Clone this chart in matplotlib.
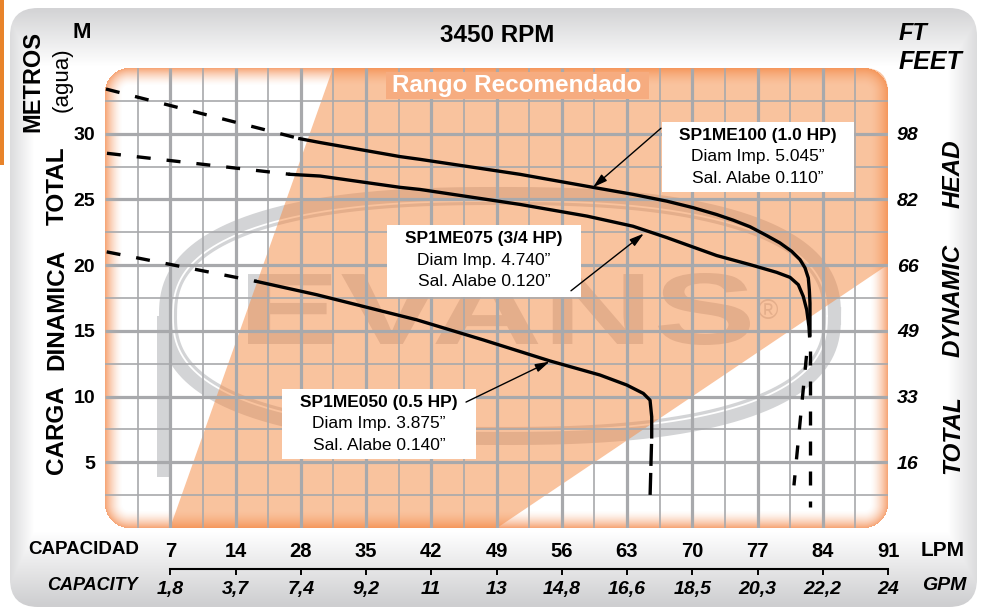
import numpy as np
import matplotlib
matplotlib.use("Agg")
import matplotlib.pyplot as plt
from matplotlib.patches import FancyBboxPatch, Rectangle, PathPatch
from matplotlib.textpath import TextPath
from matplotlib.font_manager import FontProperties
from matplotlib.transforms import Affine2D

plt.rcParams['font.family'] = ['Liberation Sans', 'DejaVu Sans']

# ---------------- data ----------------
tick_pos = [7, 14, 21, 28, 35, 42, 49, 56, 63, 70, 77, 84]
lpm_labels = ['7', '14', '28', '35', '42', '49', '56', '63', '70', '77', '84', '91']
gpm_labels = ['1,8', '3,7', '7,4', '9,2', '11', '13', '14,8', '16,6', '18,5', '20,3', '22,2', '24']
head_m = [5, 10, 15, 20, 25, 30]
head_ft = ['16', '33', '49', '66', '82', '98']

# SP1ME100 (1.0 HP)
me100_dash_x = [0.1, 20.9]
me100_dash_y = [33.4, 29.62]
me100_x = [20.9, 23.07, 31.65, 33.79, 44.52, 52.35, 56.68, 60.26, 63.11, 65.62, 67.4, 69.2,
           70.99, 72.41, 73.67, 74.56, 75.1, 75.45, 75.56, 75.63, 75.63, 75.63]
me100_y = [29.62, 29.33, 28.26, 28.05, 26.91, 25.92, 25.38, 24.87, 24.37, 23.85, 23.42, 22.92,
           22.25, 21.69, 21.05, 20.42, 19.79, 19.02, 18.13, 17.11, 16.09, 14.69]
me100_tail_x = [75.63, 75.63]
me100_tail_y = [14.69, 1.6]

# SP1ME075 (3/4 HP)
me075_dash_x = [0.21, 19.85]
me075_dash_y = [28.51, 26.91]
me075_x = [19.85, 23.07, 31.65, 33.79, 44.52, 51.71, 56.64, 60.26, 65.62, 69.2, 72.06, 73.49,
           74.38, 74.91, 75.28, 75.52, 75.58]
me075_y = [26.91, 26.78, 25.92, 25.76, 24.62, 23.73, 22.96, 22.1, 20.73, 20.04, 19.45, 19.07,
           18.51, 17.62, 16.6, 15.33, 14.62]
me075_tail_x = [75.42, 73.91]
me075_tail_y = [14.31, 3.24]

# SP1ME050 (0.5 HP)
me050_dash_x = [0.18, 16.27]
me050_dash_y = [21.01, 18.76]
me050_x = [16.27, 22.71, 33.44, 40.58, 47.74, 53.1, 55.97, 57.75, 58.47, 58.65, 58.65]
me050_y = [18.76, 17.75, 15.84, 14.31, 12.71, 11.64, 10.88, 10.24, 9.73, 8.46, 6.93]
me050_tail_x = [58.65, 58.47]
me050_tail_y = [6.93, 2.25]

# recommended range (Rango Recomendado)
zone_x = [6.97, 24.46, 84.0, 84.0, 42.05]
zone_y = [0.0, 35.0, 35.0, 20.04, 0.0]

# annotations
ann_titles = ['SP1ME100 (1.0 HP)', 'SP1ME075 (3/4 HP)', 'SP1ME050 (0.5 HP)']
ann_diam = ['Diam Imp. 5.045\u201d', 'Diam Imp. 4.740\u201d', 'Diam Imp. 3.875\u201d']
ann_alabe = ['Sal. Alabe 0.110\u201d', 'Sal. Alabe 0.120\u201d', 'Sal. Alabe 0.140\u201d']
box_x0 = [59.76, 30.25, 18.99]
box_y0 = [25.53, 17.60, 5.23]
box_w = [20.59, 20.82, 20.81]
box_h = [5.35, 5.42, 5.34]
arrow_from = [(59.65, 30.42), (49.99, 18.05), (38.73, 9.58)]
arrow_to = [(52.35, 25.92), (57.8, 22.4), (47.7, 12.66)]

# ---------------- figure ----------------
FW, FH = 981, 614
fig = plt.figure(figsize=(FW / 100, FH / 100), dpi=100)
fig.patch.set_facecolor('white')

ax_bg = fig.add_axes([0, 0, 1, 1])
ax_bg.set_xlim(0, FW)
ax_bg.set_ylim(FH, 0)
ax_bg.axis('off')

# panel gradient
yy, xx = np.mgrid[0:FH, 0:FW] + 0.5
v = np.ones((FH, FW))
v = np.minimum(v, 1 - 0.17 * np.clip((66 - yy) / 56, 0, 1))
v = np.minimum(v, 1 - 0.19 * np.clip((yy - 532) / 72, 0, 1))
v = np.minimum(v, 1 - 0.14 * np.clip((34 - xx) / 24, 0, 1))
v = np.minimum(v, 1 - 0.14 * np.clip((xx - 948) / 29, 0, 1))
rgb = np.dstack([v, v + 0.003 * (1 - v), np.minimum(v + 0.012 * (1 - v) * 4, 1)])
panel = FancyBboxPatch((10, 8), 967, 599, boxstyle='round,pad=0,rounding_size=28',
                       transform=ax_bg.transData, facecolor='none', edgecolor='none')
ax_bg.add_patch(panel)
im = ax_bg.imshow(rgb, extent=(0, FW, FH, 0), aspect='auto', zorder=0, interpolation='bilinear')
im.set_clip_path(panel)
ax_bg.add_patch(Rectangle((0, 0), 4, 165, facecolor='#e8832a', edgecolor='none', zorder=1))
ax_bg.set_xlim(0, FW)
ax_bg.set_ylim(FH, 0)

# texts around the plot
ax_bg.text(497, 36, '3450 RPM', ha='center', va='center', fontsize=17.5, fontweight='bold')
ax_bg.text(82, 32, 'M', ha='center', va='center', fontsize=16, fontweight='bold')
ax_bg.text(33, 82, 'METROS', ha='center', va='center', rotation=90, fontsize=17, fontweight='bold')
ax_bg.text(62, 80, '(agua)', ha='center', va='center', rotation=90, fontsize=16)
for word, yc in [('CARGA', 430), ('DINAMICA', 309), ('TOTAL', 186)]:
    ax_bg.text(57, yc, word, ha='center', va='center', rotation=90, fontsize=17.5, fontweight='bold')
ax_bg.text(899, 33, 'FT', ha='left', va='center', fontsize=17, fontweight='bold', style='italic')
ax_bg.text(899, 62, 'FEET', ha='left', va='center', fontsize=18, fontweight='bold', style='italic')
for word, yc in [('HEAD', 174), ('DYNAMIC', 300), ('TOTAL', 435)]:
    ax_bg.text(953, yc, word, ha='center', va='center', rotation=90, fontsize=17.5,
               fontweight='bold', style='italic')
ax_bg.text(28, 550, 'CAPACIDAD', ha='left', va='center', fontsize=13.5, fontweight='bold')
ax_bg.text(47, 585, 'CAPACITY', ha='left', va='center', fontsize=13, fontweight='bold', style='italic')
ax_bg.text(921, 550, 'LPM', ha='left', va='center', fontsize=15, fontweight='bold')
ax_bg.text(922, 585, 'GPM', ha='left', va='center', fontsize=14, fontweight='bold', style='italic')

# ---------------- main axes ----------------
ax = fig.add_axes([105 / FW, (FH - 528) / FH, 783 / FW, 460 / FH])
ax.set_facecolor('none')
for s in ax.spines.values():
    s.set_visible(False)

plot_clip = FancyBboxPatch((105, 68), 783, 460, boxstyle='round,pad=0,rounding_size=24',
                           transform=ax_bg.transData, facecolor='none', edgecolor='none')

# inner orange glow
GW, GH = 783, 460
gy, gx = np.mgrid[0:GH, 0:GW] + 0.5
r = 24
ddx = np.maximum(np.maximum(r - gx, gx - (GW - r)), 0)
ddy = np.maximum(np.maximum(r - gy, gy - (GH - r)), 0)
corner = (ddx > 0) & (ddy > 0)
d = np.minimum(np.minimum(gx, GW - gx), np.minimum(gy, GH - gy))
d = np.where(corner, r - np.hypot(ddx, ddy), d)
alpha = np.clip(1 - d / 18, 0, 1) ** 1.6 * 0.8
alpha[d < 0] = 0
glow = np.zeros((GH, GW, 4))
glow[..., 0] = 244 / 255
glow[..., 1] = 140 / 255
glow[..., 2] = 80 / 255
glow[..., 3] = alpha
ax.imshow(glow, extent=(0, 84, 0, 35), aspect='auto', origin='upper', zorder=0.5,
          interpolation='bilinear')

# watermark (EVANS logo), pixel coordinates
wm = '#d3d4d6'
t = np.linspace(0, 2 * np.pi, 600)
n = 2.5
ex = 500 + 332 * np.sign(np.cos(t)) * np.abs(np.cos(t)) ** (2 / n)
ey = 316 + 120 * np.sign(np.sin(t)) * np.abs(np.sin(t)) ** (2 / n)
ax.plot(ex, ey, color=wm, lw=13, transform=ax_bg.transData, zorder=1)
ex2 = 500 + 327 * np.sign(np.cos(t)) * np.abs(np.cos(t)) ** (2 / n)
ey2 = 316 + 115 * np.sign(np.sin(t)) * np.abs(np.sin(t)) ** (2 / n)
ax.plot(ex2, ey2, color='white', lw=1.3, transform=ax_bg.transData, zorder=1.1)
ax.add_patch(Rectangle((157, 316), 14, 161, facecolor=wm, edgecolor='none',
                       transform=ax_bg.transData, zorder=1))
tp = TextPath((0, 0), 'EVANS', size=100, prop=FontProperties(family='Liberation Sans', weight='bold'))
ext = tp.get_extents()
aff = Affine2D().translate(-ext.x0, -ext.y0).scale(502 / ext.width, -72 / ext.height).translate(248, 345)
ax.add_patch(PathPatch(tp, transform=aff + ax_bg.transData, facecolor=wm, edgecolor='none', zorder=1))
ax.text(768, 312, '\u00ae', transform=ax_bg.transData, fontsize=20, color=wm,
        ha='center', va='center', zorder=1)

# recommended zone
zone = ax.fill(zone_x, zone_y, color=(245 / 255, 140 / 255, 70 / 255), alpha=0.52, lw=0, zorder=2)[0]
zone.set_clip_path(plot_clip)

# grid
grid_c = '#a8a9ac'
major_x = tick_pos[:-1]
minor_x = [p - 3.5 for p in tick_pos]
minor_y = [h - 2.5 for h in head_m] + [32.5]
ax.vlines(minor_x, 0, 35, color=grid_c, lw=1.2, zorder=4)
ax.hlines(minor_y, 0, 84, color=grid_c, lw=1.2, zorder=4)
ax.vlines(major_x, 0, 35, color=grid_c, lw=2.3, zorder=4.1)
ax.hlines(head_m, 0, 84, color=grid_c, lw=2.3, zorder=4.1)

# Rango Recomendado label (covers the grid)
ax.add_patch(Rectangle((30.14, 32.62), 28.22, 2.06, facecolor='#f6ac80', edgecolor='none', zorder=5))
ax.text(44.2, 33.66, 'Rango Recomendado', ha='center', va='center', color='white',
        fontsize=17.5, fontweight='bold', zorder=5.5)

# curves
lw = 2.4
dash = (0, (4.2, 4.8))
dash_tail = (4.2, (4.2, 4.8))
for dx_, dy_, sx, sy, tx, ty in [
        (me100_dash_x, me100_dash_y, me100_x, me100_y, me100_tail_x, me100_tail_y),
        (me075_dash_x, me075_dash_y, me075_x, me075_y, me075_tail_x, me075_tail_y)]:
    ax.plot(dx_, dy_, color='black', lw=lw, ls=dash, dash_capstyle='butt', zorder=6)
    ax.plot(sx, sy, color='black', lw=lw, solid_joinstyle='round', zorder=6)
    ax.plot(tx, ty, color='black', lw=lw, ls=dash_tail, dash_capstyle='butt', zorder=6)
ax.plot(me050_dash_x, me050_dash_y, color='black', lw=lw, ls=dash, dash_capstyle='butt', zorder=6)
ax.plot(me050_x, me050_y, color='black', lw=lw, solid_joinstyle='round', zorder=6)
ax.plot(me050_tail_x, me050_tail_y, color='black', lw=lw, ls=(6.6, (6.6, 2.1)),
        dash_capstyle='butt', zorder=6)

# annotation boxes and arrows
for i in range(3):
    ax.add_patch(Rectangle((box_x0[i], box_y0[i]), box_w[i], box_h[i], facecolor='white',
                           edgecolor='none', zorder=7))
    cx = box_x0[i] + box_w[i] / 2
    top = box_y0[i] + box_h[i]
    ax.text(cx, top - 0.99, ann_titles[i], ha='center', va='center', fontsize=12.5,
            fontweight='bold', zorder=8)
    ax.text(cx, top - 2.65, ann_diam[i], ha='center', va='center', fontsize=12.5, zorder=8)
    ax.text(cx, top - 4.27, ann_alabe[i], ha='center', va='center', fontsize=12.5, zorder=8)
    ax.annotate('', xy=arrow_to[i], xytext=arrow_from[i], zorder=8,
                arrowprops=dict(arrowstyle='-|>,head_length=0.86,head_width=0.25',
                                mutation_scale=10, color='black', lw=1.0,
                                shrinkA=0, shrinkB=0))

ax.set_xlim(0, 84)
ax.set_ylim(0, 35)

# ticks
ax.set_xticks(tick_pos, lpm_labels)
ax.tick_params(axis='x', length=0, pad=10, labelsize=14.5)
for lab in ax.get_xticklabels():
    lab.set_fontweight('bold')
ax.set_yticks(head_m, [str(h) for h in head_m])
ax.tick_params(axis='y', length=0, pad=7, labelsize=14)
for lab in ax.get_yticklabels():
    lab.set_fontweight('bold')

secy = ax.secondary_yaxis('right')
secy.set_yticks(head_m, head_ft)
secy.tick_params(length=0, pad=6.5, labelsize=14)
for s in secy.spines.values():
    s.set_visible(False)
for lab in secy.get_yticklabels():
    lab.set_fontweight('bold')
    lab.set_fontstyle('italic')

secx = ax.secondary_xaxis(-0.089)
secx.set_xticks(tick_pos, gpm_labels)
secx.spines['bottom'].set_bounds(7, 84)
secx.spines['bottom'].set_linewidth(1.5)
secx.tick_params(direction='out', length=4, width=1.4, pad=5, labelsize=14)
for lab in secx.get_xticklabels():
    lab.set_fontweight('bold')
    lab.set_fontstyle('italic')

fig.savefig('out.png', dpi=100)
